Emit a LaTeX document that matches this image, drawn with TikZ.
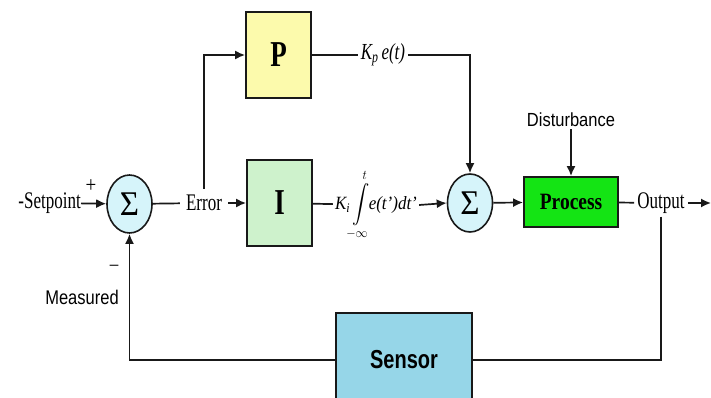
\documentclass[tikz,border=0pt]{standalone}
\usepackage{fontspec}
\usepackage{amsmath}
\usepackage{graphicx}
\setmainfont{Liberation Serif}
\setsansfont{Liberation Sans}
\usetikzlibrary{arrows.meta,shapes.geometric}
\definecolor{pYellow}{RGB}{252,250,172}
\definecolor{iGreen}{RGB}{206,242,204}
\definecolor{procGreen}{RGB}{20,228,20}
\definecolor{sensBlue}{RGB}{150,214,232}
\definecolor{sumCyan}{RGB}{214,244,250}
\newcommand{\vtall}[2][1.4]{\scalebox{1}[#1]{#2}}

\begin{document}
\begin{tikzpicture}[x=1pt,y=-1pt,
    blk/.style={draw=black!90,line width=1.8pt,inner sep=0pt},
    sumnode/.style={ellipse,draw=black!90,line width=1.6pt,fill=sumCyan,
      minimum width=45pt,minimum height=58pt,inner sep=0pt,
      font=\fontsize{33}{35}\selectfont},
    lbl/.style={inner sep=2pt,font=\fontsize{17}{20}\selectfont},
    slbl/.style={inner sep=2pt,font=\sffamily\fontsize{16.5}{20}\selectfont},
    arr/.style={-{Latex[length=10pt,width=9pt]}},
    wire/.style={line width=1.7pt,black!90}]
  \useasboundingbox (0,0) rectangle (711,398);

  % blocks
  \node[blk,fill=pYellow,minimum width=65pt,minimum height=86pt,
    font=\bfseries\fontsize{27}{30}\selectfont] (pBox) at (278.5,55) {\vtall[1.35]{P}};
  \node[blk,fill=iGreen,minimum width=65pt,minimum height=86pt,
    font=\bfseries\fontsize{27}{30}\selectfont] (iBox) at (279.5,203) {\vtall[1.35]{I}};
  \node[blk,fill=procGreen,minimum width=94pt,minimum height=50pt,
    font=\bfseries\fontsize{19.5}{22}\selectfont] (proc) at (571,202) {\vtall[1.2]{Process}};
  \node[blk,fill=sensBlue,minimum width=136pt,minimum height=94pt,
    font=\sffamily\bfseries\fontsize{20}{22}\selectfont] (sens) at (404,360) {\vtall[1.3]{Sensor}};
  \node[sumnode] (sumA) at (129.5,204) {\vtall[1.05]{Σ}};
  \node[sumnode] (sumB) at (470,203) {\vtall[1.05]{Σ}};

  % labels
  \node[lbl,anchor=east,inner sep=0pt] (setpt) at (81,203) {\vtall{-Setpoint}};
  \node[lbl,inner sep=6pt] (err) at (204,203) {\vtall{Error}};
  \node[lbl,inner sep=3pt] (kp) at (383,55)
    {\vtall[1.35]{\itshape K\textsubscript{p}\,e(t)}};
  \node[lbl] (intg) at (376,205)
    {\vtall[1.1]{\itshape K\textsubscript{i}$\displaystyle\int\limits_{-\infty}^{t}$\!e(t')dt'}};
  \node[slbl] (dist) at (571,120) {\vtall[1.15]{Disturbance}};
  \node[lbl,inner sep=3pt] (outp) at (661,203) {\vtall{Output}};
  \node[slbl] (meas) at (82,297) {\vtall[1.2]{Measured}};
  \node[lbl,font=\fontsize{19}{20}\selectfont] (plus) at (91,186) {\vtall[1.2]{+}};
  \node[lbl] (minus) at (114,268) {\vtall[1.2]{--}};
  \coordinate (outEnd) at (711,203);

  % connectors
  \draw[wire,arr] (setpt) -- (sumA);
  \draw[wire] (sumA) -- (err);
  \draw[wire,arr] (err) -- (iBox);
  \draw[wire,arr] (err.north) |- (pBox.west);
  \draw[wire] (pBox) -- (kp);
  \draw[wire,arr] (kp.east) -| (sumB.north);
  \draw[wire] (iBox) -- (intg);
  \draw[wire,arr] (intg.east) -- (sumB.west);
  \draw[wire,arr] (sumB) -- (proc);
  \draw[wire,arr] (dist) -- (proc);
  \draw[wire] (proc) -- (outp);
  \draw[wire,arr] (outp) -- (outEnd);
  \draw[wire] (outp.south) |- (sens.east);
  \draw[wire,arr] (sens.west) -| (sumA.south);
\end{tikzpicture}
\end{document}
